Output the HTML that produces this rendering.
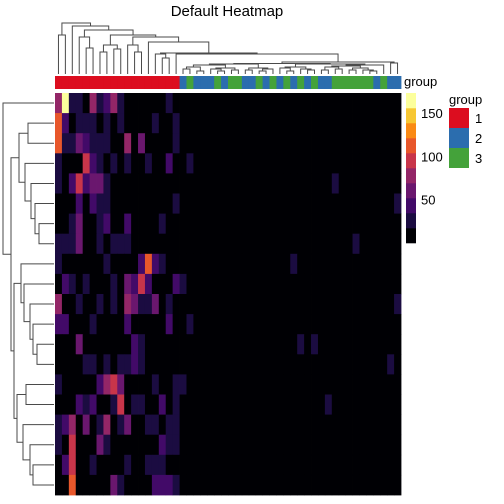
<!DOCTYPE html>
<html><head><meta charset="utf-8">
<style>
body{margin:0;background:#fff;}
svg{display:block;font-family:"Liberation Sans",sans-serif;}
</style></head>
<body>
<svg id="chart" width="504" height="504">
<text x="227" y="16" text-anchor="middle" font-size="15">Default Heatmap</text>
<g id="coldend"></g>
<g id="rowdend"></g>
<g id="groupbar"></g>
<text x="404" y="86" font-size="13">group</text>
<g id="cells"></g>
<g id="legend"></g>
<g id="glegend">
<text x="449" y="104" font-size="13">group</text>
</g>
</svg>
<script>
const rowValues = [
[78,165,25,25,3,78,25,43,78,25,3,3,3,3,3,3,25,3,3,3,3,3,3,3,3,3,3,3,3,3,3,3,3,3,3,3,3,3,3,3,3,3,3,3,3,3,3,3,3,3],
[112,43,3,25,25,25,3,25,3,25,3,3,3,3,25,3,3,25,3,3,3,3,3,3,3,3,3,3,3,3,3,3,3,3,3,3,3,3,3,3,3,3,3,3,3,3,3,3,3,3],
[112,25,25,60,43,25,25,25,3,3,78,3,60,3,3,3,3,25,3,3,3,3,3,3,3,3,3,3,3,3,3,3,3,3,3,3,3,3,3,3,3,3,3,3,3,3,3,3,3,3],
[25,3,3,3,95,43,25,3,25,3,25,3,3,25,3,3,43,3,3,25,3,3,3,3,3,3,3,3,3,3,3,3,3,3,3,3,3,3,3,3,3,3,3,3,3,3,3,3,3,3],
[25,3,43,95,43,60,60,25,3,3,3,3,3,3,3,3,3,3,3,3,3,3,3,3,3,3,3,3,3,3,3,3,3,3,3,3,3,3,3,3,25,3,3,3,3,3,3,3,3,3],
[3,3,3,43,3,43,25,25,3,3,3,3,3,3,3,3,3,25,3,3,3,3,3,3,3,3,3,3,3,3,3,3,3,3,3,3,3,3,3,3,3,3,3,3,3,3,3,3,3,25],
[3,3,25,60,3,3,25,43,3,3,43,3,3,3,3,25,3,3,3,3,3,3,3,3,3,3,3,3,3,3,3,3,3,3,3,3,3,3,3,3,3,3,3,3,3,3,3,3,3,3],
[25,25,25,60,3,3,25,3,25,25,25,3,3,3,3,3,3,3,3,3,3,3,3,3,3,3,3,3,3,3,3,3,3,3,3,3,3,3,3,3,3,3,3,25,3,3,3,3,3,3],
[25,3,3,3,3,3,3,25,3,3,3,3,43,112,43,25,3,3,3,3,3,3,3,3,3,3,3,3,3,3,3,3,3,3,25,3,3,3,3,3,3,3,3,3,3,3,3,3,3,3],
[3,43,25,3,25,3,3,3,25,3,60,43,95,43,3,3,3,43,25,3,3,3,3,3,3,3,3,3,3,3,3,3,3,3,3,3,3,3,3,3,3,3,3,3,3,3,3,3,3,3],
[78,3,3,25,3,3,25,3,25,3,78,60,25,25,60,3,25,3,3,3,3,3,3,3,3,3,3,3,3,3,3,3,3,3,3,3,3,3,3,3,3,3,3,3,3,3,3,3,3,25],
[43,43,3,3,3,25,3,3,3,3,43,3,3,3,3,3,43,3,3,25,3,3,3,3,3,3,3,3,3,3,3,3,3,3,3,3,3,3,3,3,3,3,3,3,3,3,3,3,3,3],
[3,3,3,60,3,3,3,3,3,3,3,43,25,3,3,3,3,3,3,3,3,3,3,3,3,3,3,3,3,3,3,3,3,3,3,25,3,25,3,3,3,3,3,3,3,3,3,3,3,3],
[3,3,3,3,25,25,3,25,3,25,25,43,25,3,3,3,3,3,3,3,3,3,3,3,3,3,3,3,3,3,3,3,3,3,3,3,3,3,3,3,3,3,3,3,3,3,3,3,25,3],
[25,3,3,3,3,3,43,78,95,60,3,3,3,3,25,3,3,25,25,3,3,3,3,3,3,3,3,3,3,3,3,3,3,3,3,3,3,3,3,3,3,3,3,3,3,3,3,3,3,3],
[3,3,3,43,25,43,3,3,25,95,3,25,25,3,3,43,3,25,3,3,3,3,3,3,3,3,3,3,3,3,3,3,3,3,3,3,3,3,3,25,3,3,3,3,3,3,3,3,3,3],
[25,43,78,3,60,3,25,78,3,25,60,3,3,25,25,3,25,25,3,3,3,3,3,3,3,3,3,3,3,3,3,3,3,3,3,3,3,3,3,3,3,3,3,3,3,3,3,3,3,3],
[25,3,95,3,3,3,60,25,3,3,3,3,3,3,3,43,25,25,3,3,3,3,3,3,3,3,3,3,3,3,3,3,3,3,3,3,3,3,3,3,3,3,3,3,3,3,3,3,3,3],
[3,43,95,3,3,25,3,3,3,3,25,3,3,25,25,25,3,3,3,3,3,3,3,3,3,3,3,3,3,3,3,3,3,3,3,3,3,3,3,3,3,3,3,3,3,3,3,3,3,3],
[3,3,112,3,3,3,3,3,60,25,3,3,3,3,43,43,43,25,3,3,3,3,3,3,3,3,3,3,3,3,3,3,3,3,3,3,3,3,3,3,3,3,3,3,3,3,3,3,3,3]
];
const groups = [1,1,1,1,1,1,1,1,1,1,1,1,1,1,1,1,1,1,
  2,3,2,2,2,3,2,3,3,2,2,3,2,3,2,3,2,3,2,3,2,2,3,3,3,3,3,3,2,3,2,2];
const legendTicks = [50,100,150];
const groupLevels = ["1","2","3"];
const palette = ["#000004","#1B0C41","#420A68","#6A176E","#932667","#C8354A","#E8572B","#FA8A14","#F7C733","#FCFF9C"];
const groupColors = {1:"#DC0D1F",2:"#2B6DAE",3:"#44A23A"};
const vmax = 173;

const NS="http://www.w3.org/2000/svg";
const X0=55,X1=401,Y0=93,Y1=495;
const nR=rowValues.length,nC=rowValues[0].length;
const cw=(X1-X0)/nC,rh=(Y1-Y0)/nR;
const xCol=c=>X0+c*cw, yRow=r=>Y0+r*rh;
const colorOf=v=>palette[Math.max(0,Math.min(palette.length-1,Math.floor(v/(vmax/palette.length))))];
function mk(tag,attrs,parent){const e=document.createElementNS(NS,tag);for(const k in attrs)e.setAttribute(k,attrs[k]);parent.appendChild(e);return e;}

const cells=document.getElementById('cells');
rowValues.forEach((row,r)=>row.forEach((v,c)=>{
  const e=mk('rect',{x:xCol(c),y:yRow(r),width:cw+0.4,height:rh+0.4,fill:colorOf(v)},cells);
  
  
}));

const gb=document.getElementById('groupbar');
groups.slice(0,nC).forEach((g,c)=>{
  const e=mk('rect',{x:xCol(c),y:76,width:cw+0.4,height:13,fill:groupColors[g]},gb);
  
  
});

const lg=document.getElementById('legend');
const LY0=93,LY1=243;
palette.forEach((col,i)=>{
  const h=(LY1-LY0)/palette.length;
  const e=mk('rect',{x:406,y:LY1-(i+1)*h,width:10,height:h+0.3,fill:col},lg);
  
  
});
legendTicks.forEach(t=>{
  const y=LY1-t/vmax*(LY1-LY0);
  const e=mk('text',{x:421,y:y+5,'font-size':13},lg);e.textContent=t;
  
  
});
const gl=document.getElementById('glegend');
groupLevels.forEach((g,i)=>{
  const r=mk('rect',{x:449,y:108+i*20,width:20,height:20,fill:groupColors[g]},gl);
  
  
  const t=mk('text',{x:475,y:123+i*20,'font-size':13},gl);t.textContent=g;
  
  
});

const colTree=[[0,1,35],[2,[[3,[4,5,48],37],[[[6,7,52],[8,9,49],45],[[10,[11,12,52],45],[13,[[14,[15,16,58],54],[17,[
  [[[[[18,19,69],[20,21,71],67],[[22,[23,24,71],69],[25,26,70],68],65],[[27,28,70],[[29,30,71],31,69],68],64],
   [[[32,[33,34,71],68],[35,[36,37,70],69],67],[[[[38,39,70],[40,41,69],67],[[42,43,70],[44,[45,46,71],70],68],66],47,65],64],63.5],
  [48,49,63],62],54],53],42],37],35],30],26],23];
const rowTree=[0,[[[1,2,28],[3,[4,[5,[6,7,39],35],31],25],19],
  [[8,[9,[10,[11,[12,13,37],33],30],24],21],[[14,15,26],[16,[17,[18,19,33],30],23],17],14],11],3];

function drawTree(node,g,leafPos,leafH,horizontal){
  if(typeof node==='number') return [leafPos(node),leafH];
  const a=drawTree(node[0],g,leafPos,leafH,horizontal);
  const b=drawTree(node[1],g,leafPos,leafH,horizontal);
  const h=node[2];
  let d;
  if(horizontal) d=`M${a[0]},${a[1]}V${h}H${b[0]}V${b[1]}`;
  else d=`M${a[1]},${a[0]}H${h}V${b[0]}H${b[1]}`;
  const p=mk('path',{d:d,fill:'none',stroke:'#4a4a4a','stroke-width':1},g);
  
  
  return [(a[0]+b[0])/2,h];
}
drawTree(colTree,document.getElementById('coldend'),c=>xCol(c)+cw/2,74,true);
drawTree(rowTree,document.getElementById('rowdend'),r=>yRow(r)+rh/2,54,false);
</script>
</body></html>
